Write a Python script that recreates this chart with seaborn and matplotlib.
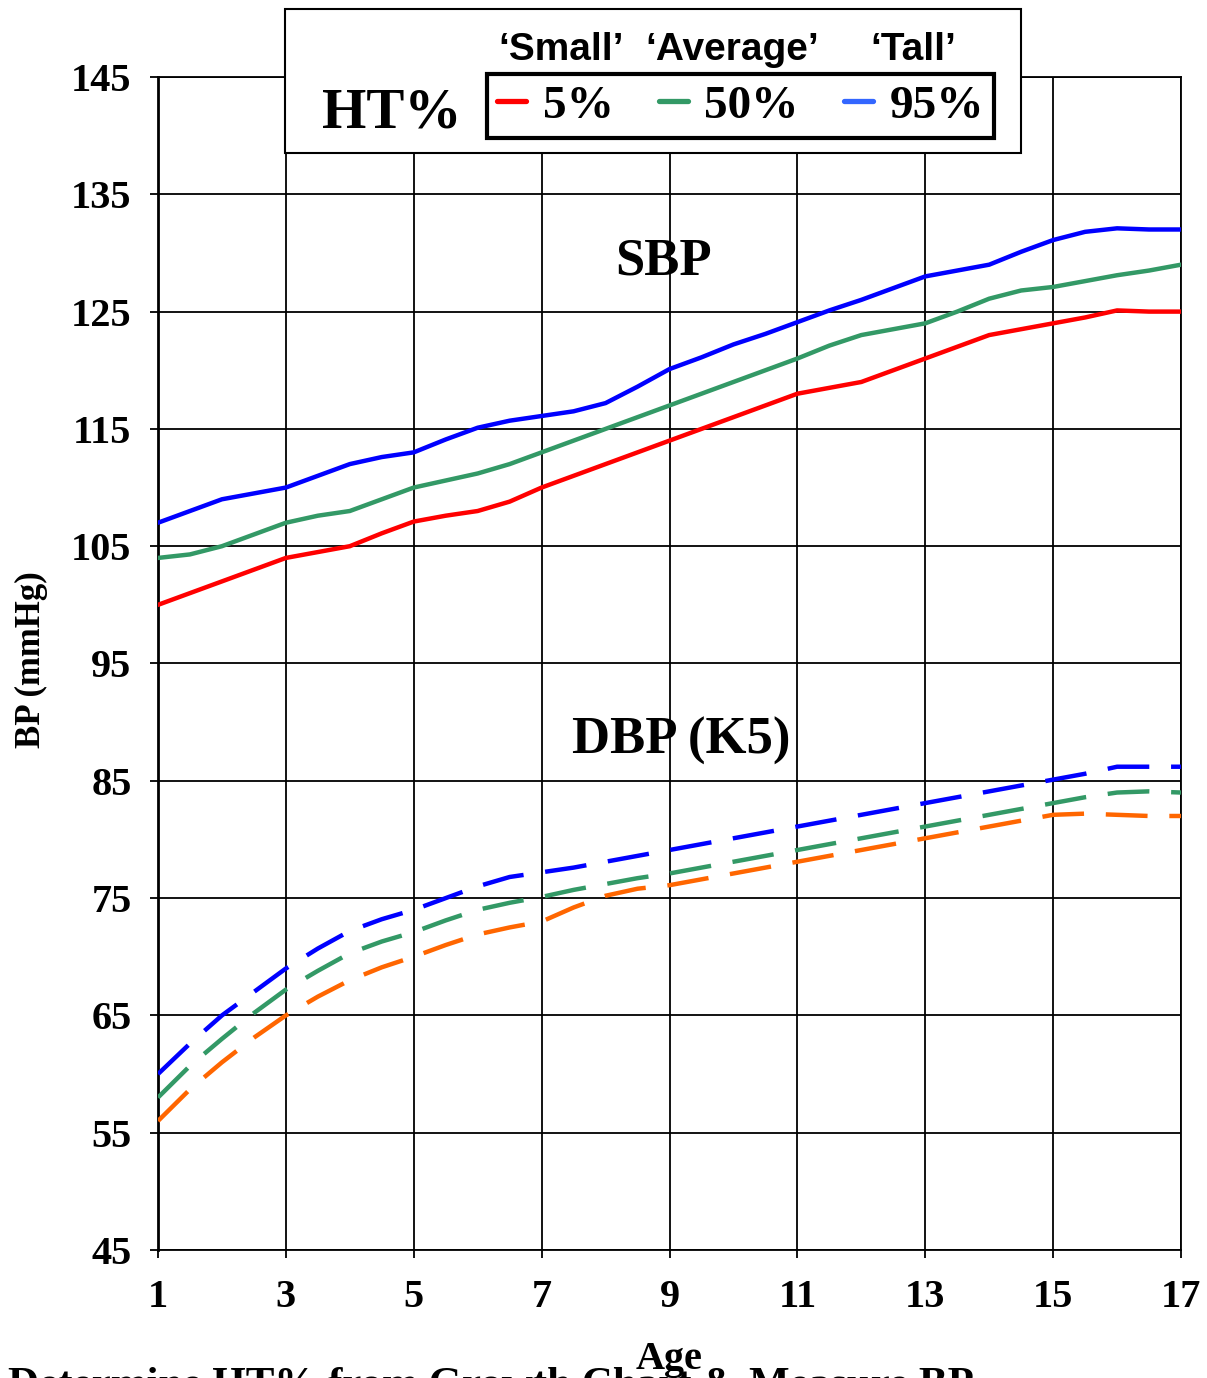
import numpy as np
import pandas as pd
import matplotlib
matplotlib.use('Agg')
import matplotlib.pyplot as plt
import seaborn as sns
from matplotlib.patches import Rectangle
from matplotlib.lines import Line2D

# age in years (half-year steps)
age = [1, 1.5, 2, 2.5, 3, 3.5, 4, 4.5, 5, 5.5, 6, 6.5, 7, 7.5, 8, 8.5, 9,
       9.5, 10, 10.5, 11, 11.5, 12, 12.5, 13, 13.5, 14, 14.5, 15, 15.5, 16, 16.5, 17]

# systolic BP by height percentile
sbp_5 = [100, 101, 102, 103, 104, 104.5, 105, 106.1, 107.1, 107.6, 108, 108.8, 110, 111, 112, 113, 114,
         115, 116, 117, 118, 118.5, 119, 120, 121, 122, 123, 123.5, 124, 124.5, 125.1, 125, 125]
sbp_50 = [104, 104.3, 105, 106, 107, 107.6, 108, 109, 110, 110.6, 111.2, 112, 113, 114, 115, 116, 117,
          118, 119, 120, 121, 122.1, 123, 123.5, 124, 125, 126.1, 126.8, 127.1, 127.6, 128.1, 128.5, 129]
sbp_95 = [107, 108, 109, 109.5, 110, 111, 112, 112.6, 113, 114.1, 115.1, 115.7, 116.1, 116.5, 117.2, 118.6, 120.1,
          121.1, 122.2, 123.1, 124.1, 125.1, 126, 127, 128, 128.5, 129, 130.1, 131.1, 131.8, 132.1, 132, 132]

# diastolic BP (K5) by height percentile
dbp_5 = [56, 58.7, 61, 63.1, 65, 66.6, 68, 69.1, 70, 71, 71.9, 72.5, 73, 74.2, 75.2, 75.8, 76.1,
         76.6, 77.1, 77.6, 78.1, 78.6, 79.1, 79.6, 80.1, 80.6, 81.1, 81.6, 82.1, 82.2, 82.1, 82, 82]
dbp_50 = [58, 60.7, 63, 65.2, 67.2, 68.8, 70.3, 71.3, 72.1, 73.1, 74, 74.6, 75.1, 75.7, 76.2, 76.7, 77.1,
          77.6, 78.1, 78.6, 79.1, 79.6, 80.1, 80.6, 81.1, 81.6, 82.1, 82.6, 83.1, 83.6, 84, 84.1, 84]
dbp_95 = [60, 62.6, 65, 67, 69, 70.7, 72.2, 73.2, 74, 75, 76, 76.8, 77.2, 77.6, 78.1, 78.6, 79.1,
          79.6, 80.1, 80.6, 81.1, 81.6, 82.1, 82.6, 83.1, 83.6, 84.1, 84.6, 85.1, 85.6, 86.2, 86.2, 86.2]

pct_labels = ['5%', '50%', '95%']
group_labels = ['\u2018Small\u2019', '\u2018Average\u2019', '\u2018Tall\u2019']
x_ticks = [1, 3, 5, 7, 9, 11, 13, 15, 17]
y_ticks = [45, 55, 65, 75, 85, 95, 105, 115, 125, 135, 145]

sns.set_style('white')
plt.rcParams['font.family'] = ['Liberation Serif', 'DejaVu Serif']
plt.rcParams['font.weight'] = 'bold'
plt.rcParams['text.color'] = 'black'
plt.rcParams['axes.labelcolor'] = 'black'
plt.rcParams['xtick.color'] = 'black'
plt.rcParams['ytick.color'] = 'black'

fig = plt.figure(figsize=(12.07, 13.78), dpi=100)
ax = fig.add_axes([158/1207, 1 - 1250/1378, (1181-158)/1207, (1250-77)/1378])

sbp_colors = ['#FF0000', '#339966', '#0000FF']
dbp_colors = ['#FF6600', '#339966', '#0000FF']

for vals, col in zip([sbp_5, sbp_50, sbp_95], sbp_colors):
    sns.lineplot(x=age, y=vals, color=col, lw=3.2, ax=ax, legend=False, zorder=3)

for vals, col in zip([dbp_5, dbp_50, dbp_95], dbp_colors):
    sns.lineplot(x=age, y=vals, color=col, lw=3.2, ax=ax, legend=False, zorder=3,
                 linestyle=(0, (9.4, 4.9)))

ax.set_xlim(1, 17)
ax.set_ylim(45, 145)
ax.set_xticks(x_ticks)
ax.set_yticks(y_ticks)
ax.grid(True, color='black', lw=1.3)
ax.set_axisbelow(True)
for s in ax.spines.values():
    s.set_color('black')
    s.set_linewidth(1.3)
ax.spines['left'].set_linewidth(2)
ax.tick_params(axis='both', direction='out', length=6, width=1.3, color='black',
               labelcolor='black', labelsize=29, pad=13, bottom=True, left=True)
ax.tick_params(axis='x', pad=15)
for lab in ax.get_xticklabels() + ax.get_yticklabels():
    lab.set_fontweight('bold')

ax.set_xlabel('Age', fontsize=29, fontweight='bold', color='black')
ax.xaxis.set_label_coords(0.5, -0.078)
ax.set_ylabel('')
fig.text(31/1207, 1 - 660/1378, 'BP (mmHg)', rotation=90, ha='center', va='center',
         fontsize=25, fontweight='bold', color='black')

ax.text(8.9, 129.3, 'SBP', ha='center', va='center', fontsize=38, fontweight='bold',
        color='black', zorder=4)
ax.text(9.18, 88.4, 'DBP (K5)', ha='center', va='center', fontsize=38, fontweight='bold',
        color='black', zorder=4)

# legend block on top
ax.add_patch(Rectangle((285/1207, 1 - 153/1378), (1021-285)/1207, (153-9)/1378,
                       transform=fig.transFigure, facecolor='white', edgecolor='black',
                       lw=1.5, clip_on=False, zorder=6))
ax.text(322/1207, 1 - 128/1378, 'HT%', transform=fig.transFigure, ha='left', va='baseline',
        fontsize=41, fontweight='bold', color='black', zorder=7)
for lab, cx in zip(group_labels, [561, 732, 913]):
    ax.text(cx/1207, 1 - 60/1378, lab, transform=fig.transFigure, ha='center', va='baseline',
            fontsize=28, fontweight='bold', family='Liberation Sans', color='black', zorder=7)

handles = [Line2D([], [], color=c, lw=3.8) for c in ['#FF0000', '#339966', '#3366FF']]
leg = ax.legend(handles, pct_labels, loc='center', bbox_to_anchor=(740.5/1207, 1 - 106/1378),
                bbox_transform=fig.transFigure, ncol=3, frameon=True, fancybox=False,
                edgecolor='black', framealpha=1, handlelength=0.62, handletextpad=0.35,
                columnspacing=0.95, borderpad=0.22, borderaxespad=0, labelcolor='black',
                prop={'family': 'Liberation Serif', 'weight': 'bold', 'size': 34})
leg.get_frame().set_linewidth(3)
leg.set_zorder(8)

fig.text(8/1207, 1 - 1396/1378, 'Determine HT% from Growth Chart & Measure BP',
         ha='left', va='baseline', fontsize=31, fontweight='bold', color='black')

fig.savefig('out.png', dpi=100)
